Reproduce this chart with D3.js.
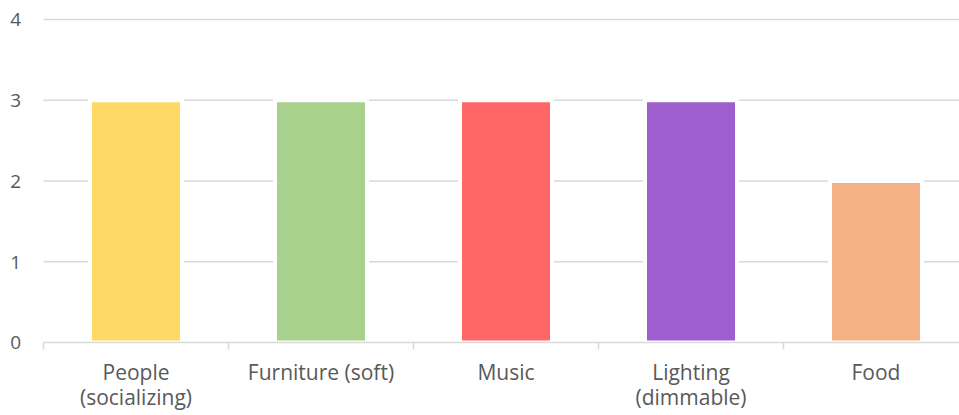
<!DOCTYPE html>
<html>
<head>
<meta charset="utf-8">
<script src="https://cdn.jsdelivr.net/npm/d3@7"></script>
<style>
  body { margin: 0; background: #fff; }
  text { font-family: "Open Sans", Lato, sans-serif; fill: #595959; }
</style>
</head>
<body>
<div id="chart"></div>
<script>
// chart data
const categories = ["People (socializing)", "Furniture (soft)", "Music", "Lighting (dimmable)", "Food"];
const labelLines = [["People", "(socializing)"], ["Furniture (soft)"], ["Music"], ["Lighting", "(dimmable)"], ["Food"]];
const values = [3, 3, 3, 3, 2];
const colors = ["#FFD966", "#A9D18E", "#FF6666", "#9E5ECE", "#F4B183"];
const yTicks = [0, 1, 2, 3, 4];

const width = 959, height = 415;

const svg = d3.select("#chart")
    .append("svg")
    .attr("width", width)
    .attr("height", height);

// x scale runs past the right edge (the original is cropped there)
const x = d3.scaleBand()
    .domain(categories)
    .range([43.5, 968.5])
    .paddingInner(0)
    .paddingOuter(0);

const y = d3.scaleLinear()
    .domain([0, 4])
    .range([342.5, 19.5]);

// gridlines
svg.append("g")
    .selectAll("line")
    .data(yTicks.filter(d => d > 0))
    .join("line")
    .attr("x1", 43.5)
    .attr("x2", width)
    .attr("y1", d => y(d))
    .attr("y2", d => y(d))
    .attr("stroke", "#d9d9d9")
    .attr("stroke-width", 1.5);

// y labels
svg.append("g")
    .selectAll("text")
    .data(yTicks)
    .join("text")
    .attr("x", 21)
    .attr("y", d => y(d))
    .attr("dy", "0.36em")
    .attr("text-anchor", "end")
    .style("font-size", "19px")
    .text(d => d);

// bars, white outline cuts the gridlines
const barW = 92;
svg.append("g")
    .selectAll("rect")
    .data(values)
    .join("rect")
    .attr("x", (d, i) => x(categories[i]) + x.bandwidth() / 2 - barW / 2)
    .attr("y", d => y(d))
    .attr("width", barW)
    .attr("height", d => y(0) - y(d))
    .attr("fill", (d, i) => colors[i])
    .attr("stroke", "#fff")
    .attr("stroke-width", 4);

// x axis
const xAxis = svg.append("g")
    .attr("transform", `translate(0, ${y(0)})`);
xAxis.append("line")
    .attr("x1", 43.5)
    .attr("x2", width)
    .attr("stroke", "#d9d9d9")
    .attr("stroke-width", 1.5);
xAxis.selectAll(".tick")
    .data(categories)
    .join("line")
    .attr("class", "tick")
    .attr("x1", d => x(d))
    .attr("x2", d => x(d))
    .attr("y1", 0)
    .attr("y2", 7)
    .attr("stroke", "#d9d9d9")
    .attr("stroke-width", 1.5);

// category labels
const lbl = svg.append("g")
    .selectAll("text")
    .data(categories)
    .join("text")
    .attr("text-anchor", "middle")
    .style("font-size", "21px")
    .attr("x", d => x(d) + x.bandwidth() / 2)
    .attr("y", 380);
lbl.selectAll("tspan")
    .data((d, i) => labelLines[i])
    .join("tspan")
    .attr("x", function () { return d3.select(this.parentNode).attr("x"); })
    .attr("dy", (d, i) => i === 0 ? 0 : 25)
    .text(d => d);
</script>
</body>
</html>
